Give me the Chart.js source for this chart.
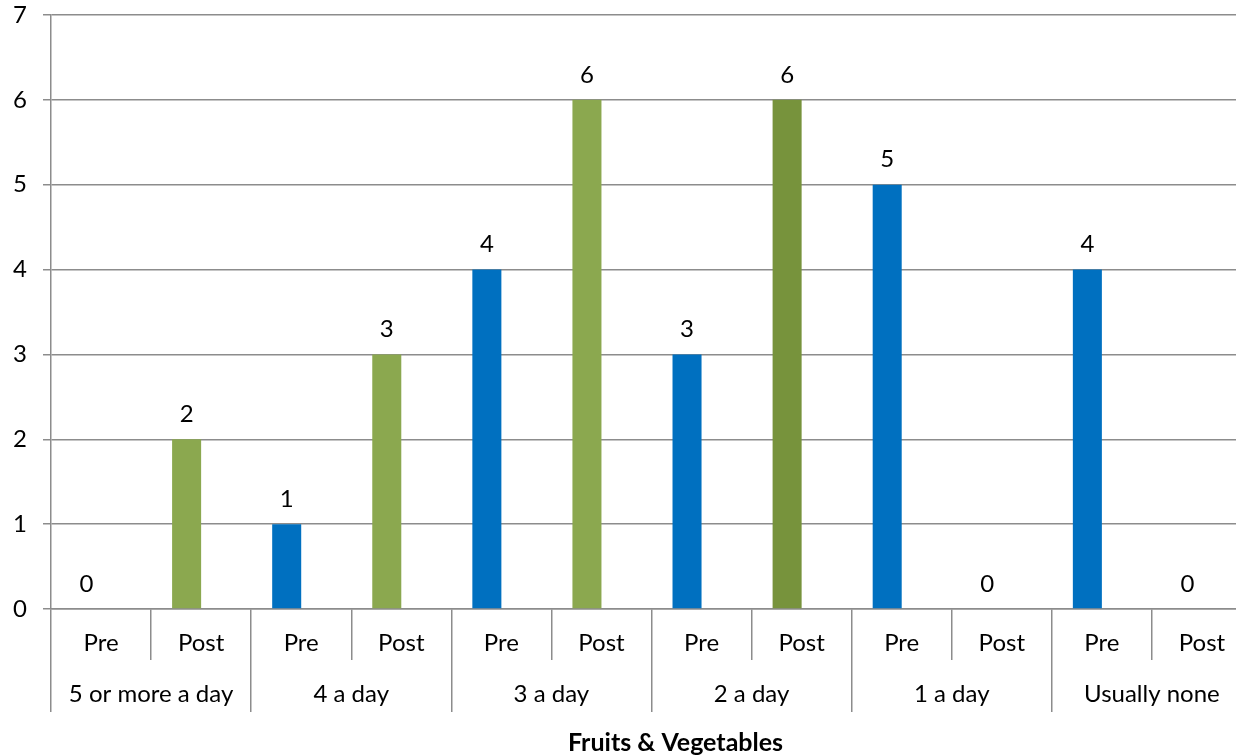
<!DOCTYPE html>
<html>
<head>
<meta charset="utf-8">
<script src="https://cdn.jsdelivr.net/npm/chart.js@4"></script>
<style>
  html, body { margin: 0; padding: 0; background: #fff; overflow: hidden; }
  #wrap { width: 1252px; height: 756px; position: relative; }
</style>
</head>
<body>
<div id="wrap"><canvas id="chart"></canvas></div>
<script>
// Servings of fruit & vegetables per day, before and after
const groups = ['5 or more a day', '4 a day', '3 a day', '2 a day', '1 a day', 'Usually none'];
const phases = ['Pre', 'Post'];
const preValues = [0, 1, 4, 3, 5, 4];
const postValues = [2, 3, 6, 6, 0, 0];
const yTicks = [0, 1, 2, 3, 4, 5, 6, 7];

const preColor = '#0070C0';
const postColor = '#8BA84F';
const postColorDark = '#77933C';
const lineColor = '#8C8C8C';
const fontFamily = 'Lato, "Open Sans", sans-serif';

// one bar per Pre/Post slot, interleaved by group
const slotLabels = [];
const slotValues = [];
const slotColors = [];
groups.forEach((g, i) => {
  slotLabels.push(phases[0], phases[1]);
  slotValues.push(preValues[i], postValues[i]);
  slotColors.push(preColor, g === '2 a day' ? postColorDark : postColor);
});

const valueLabels = {
  id: 'valueLabels',
  afterDatasetsDraw(chart) {
    const ctx = chart.ctx;
    const meta = chart.getDatasetMeta(0);
    ctx.save();
    ctx.font = '24px ' + fontFamily;
    ctx.fillStyle = '#000';
    ctx.textAlign = 'center';
    ctx.textBaseline = 'middle';
    meta.data.forEach((bar, i) => {
      ctx.fillText(String(slotValues[i]), bar.x, bar.y - 25);
    });
    ctx.restore();
  }
};

const axisTitle = {
  id: 'axisTitle',
  afterDraw(chart) {
    const ctx = chart.ctx;
    const x = chart.scales.x;
    ctx.save();
    ctx.font = 'bold 25px ' + fontFamily;
    ctx.fillStyle = '#000';
    ctx.textAlign = 'center';
    ctx.textBaseline = 'middle';
    ctx.fillText('Fruits & Vegetables', x.left + (x.right - x.left) * 0.52, chart.height - 13);
    ctx.restore();
  }
};

new Chart(document.getElementById('chart'), {
  type: 'bar',
  data: {
    labels: slotLabels,
    datasets: [
      { label: 'Servings', data: slotValues, backgroundColor: slotColors, borderWidth: 0 },
      { label: 'spacer', data: slotValues.map(() => null), backgroundColor: 'rgba(0,0,0,0)' }
    ]
  },
  options: {
    responsive: true,
    maintainAspectRatio: false,
    animation: false,
    events: [],
    categoryPercentage: 0.58,
    barPercentage: 1.0,
    layout: { padding: { top: 0, left: 0, right: 0, bottom: 0 } },
    plugins: { legend: { display: false }, tooltip: { enabled: false } },
    scales: {
      y: {
        min: 0,
        max: 7,
        afterBuildTicks(scale) { scale.ticks = yTicks.map(v => ({ value: v })); },
        afterFit(scale) { scale.width = 51; scale.paddingTop = 15; },
        ticks: { font: { size: 24, family: fontFamily }, color: '#000', padding: 16 },
        grid: { color: lineColor, lineWidth: 1.5, tickLength: 8 },
        border: { display: true, color: lineColor, width: 1.5 }
      },
      x: {
        position: 'bottom',
        offset: true,
        afterFit(scale) { scale.height = 51; },
        ticks: {
          font: { size: 24, family: fontFamily }, color: '#000',
          padding: -31, autoSkip: false, maxRotation: 0, minRotation: 0
        },
        grid: { display: true, drawOnChartArea: false, offset: true, tickLength: 51, color: lineColor, lineWidth: 1.5 },
        border: { display: true, color: lineColor, width: 1.5 }
      },
      x2: {
        type: 'category',
        position: 'bottom',
        labels: groups,
        offset: true,
        afterFit(scale) { scale.height = 96; },
        ticks: {
          font: { size: 24, family: fontFamily }, color: '#000',
          padding: -32, autoSkip: false, maxRotation: 0, minRotation: 0
        },
        grid: { display: true, drawOnChartArea: false, offset: true, tickLength: 52, color: lineColor, lineWidth: 1.5 },
        border: { display: false }
      }
    }
  },
  plugins: [valueLabels, axisTitle]
});
</script>
</body>
</html>
